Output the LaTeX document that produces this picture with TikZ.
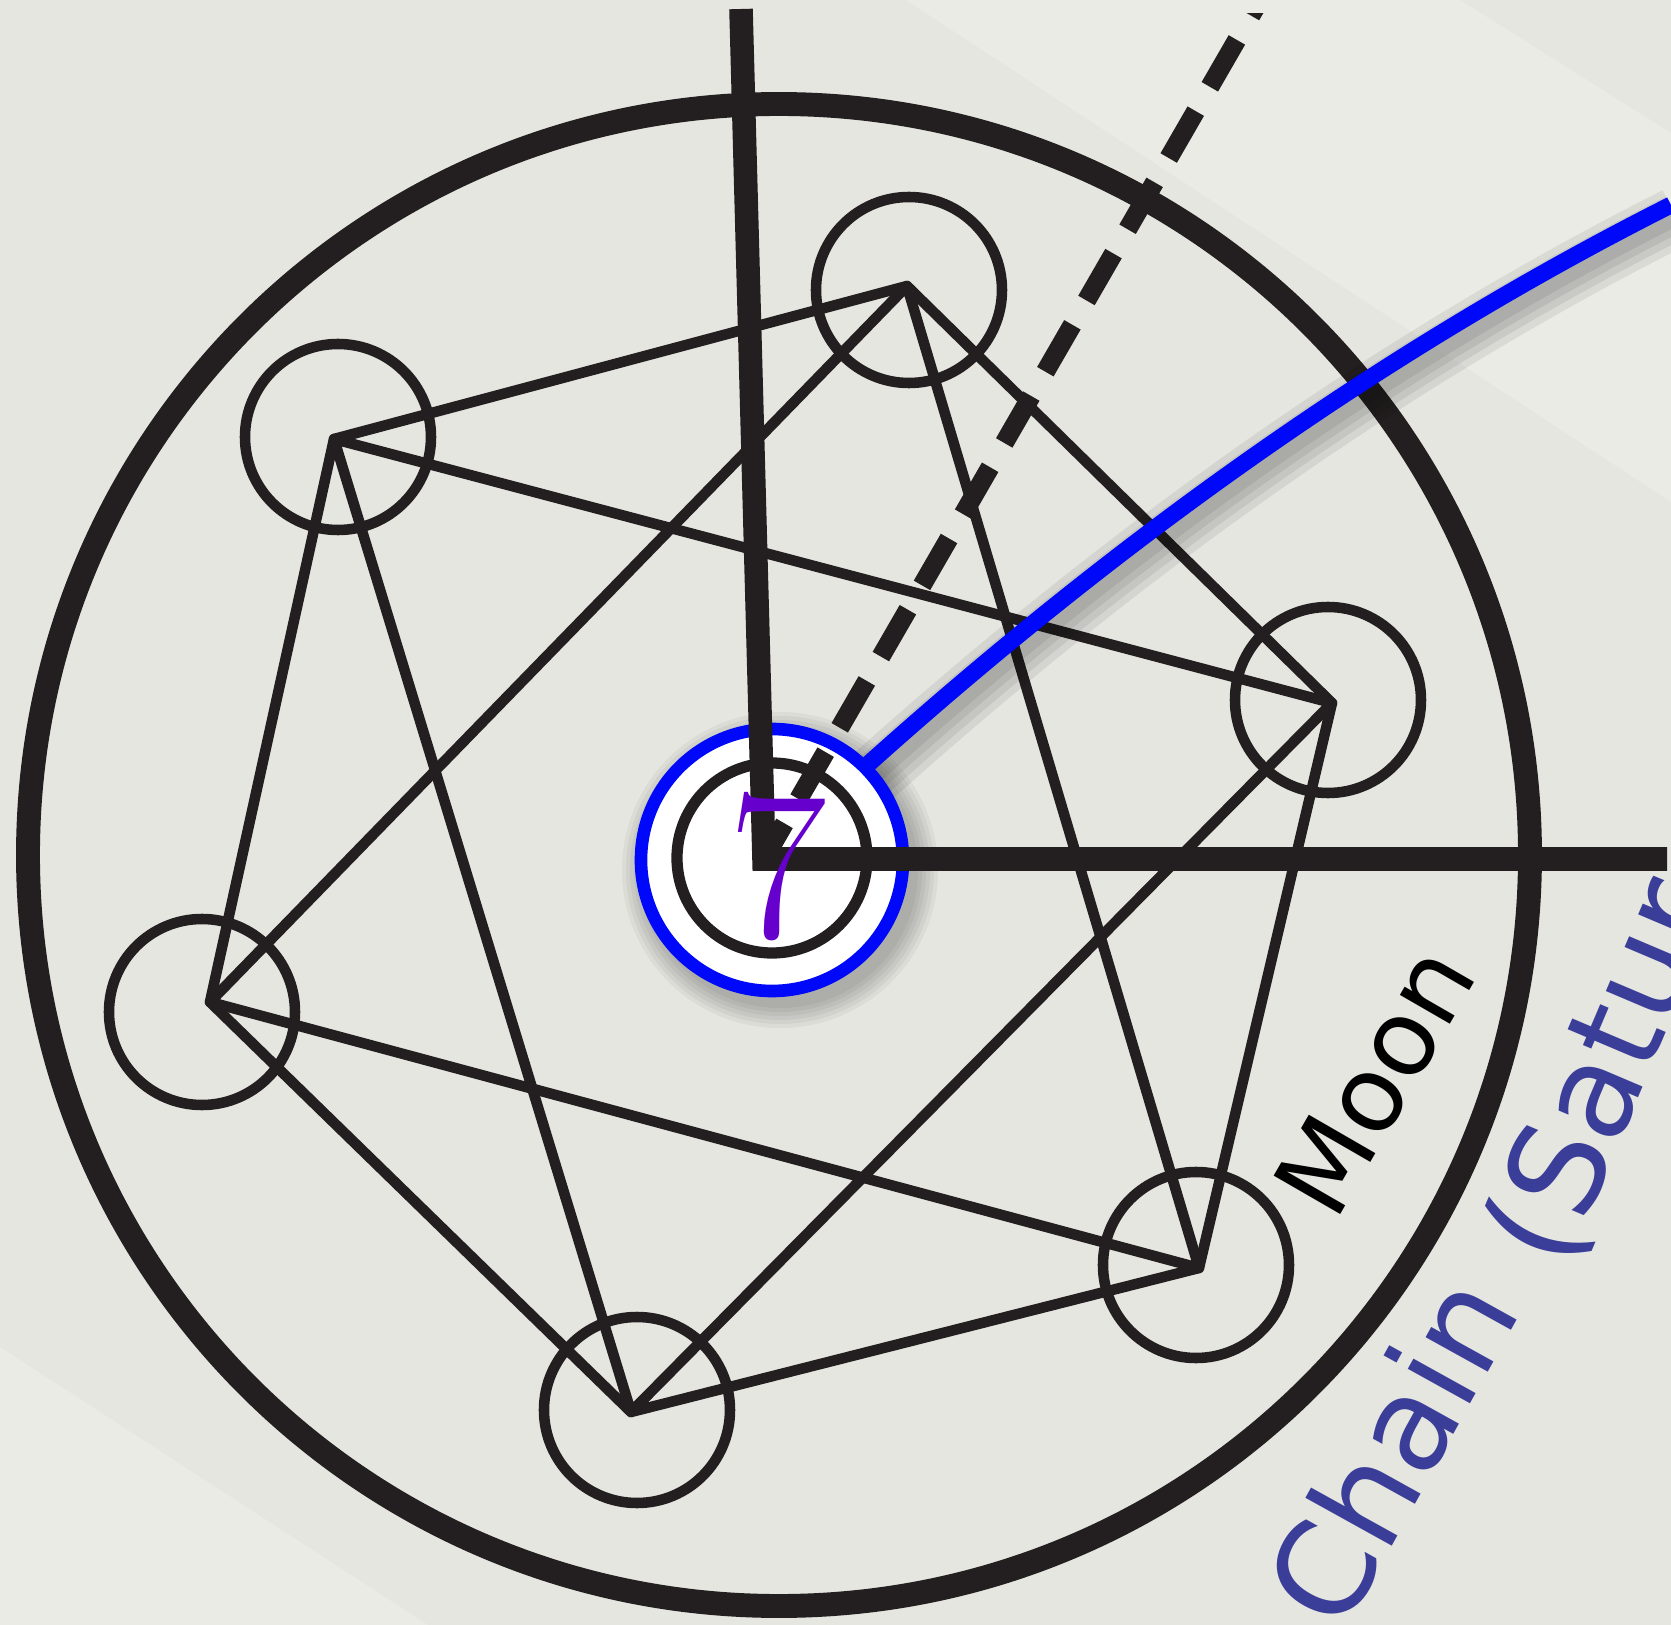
\documentclass[tikz,border=0pt]{standalone}
\usepackage{fontspec}
\usetikzlibrary{calc}
\newfontfamily\labelfont{DejaVu Sans}
\definecolor{inkblack}{RGB}{35, 31, 32}
\definecolor{chainblue}{RGB}{58, 62, 152}
\definecolor{ringblue}{RGB}{0, 8, 250}
\definecolor{digitpurple}{RGB}{102, 0, 204}
\definecolor{papergrey}{RGB}{229, 230, 224}
\definecolor{paperflat}{RGB}{234, 235, 229}

\begin{document}
\begin{tikzpicture}[
    hubring/.style={circle, draw=ringblue, fill=white, line width=3.6pt,
                    minimum size=2.62cm, inner sep=0pt},
    corering/.style={circle, draw=inkblack, line width=3.2pt,
                     minimum size=1.90cm, inner sep=0pt},
    vertexring/.style={circle, draw=inkblack, line width=3pt,
                       minimum size=1.86cm, inner sep=0pt},
    starline/.style={inkblack, line width=3pt, line join=round},
    ray/.style={inkblack, line width=6.7pt},
    dashray/.style={inkblack, line width=5.4pt,
                    dash pattern=on 15.4pt off 8pt, dash phase=3.7pt},
    bluepath/.style={ringblue, line width=4.8pt},
    digit/.style={text=digitpurple, font=\fontsize{61}{61}\selectfont, inner sep=0pt},
    chainlabel/.style={text=chainblue, font=\labelfont\fontsize{37}{37}\selectfont,
                       inner sep=0pt, anchor=base west},
  ]
    \def\outerR{7.51}
    \useasboundingbox (-7.72,-7.65) rectangle (8.99,8.60);

    % Paper background
    \fill[papergrey] (-7.72,-7.65) rectangle (8.99,8.60);
    \fill[paperflat] (1.34,8.60) -- (6.88,8.60) -- (8.99,7.27) -- (8.99,3.58) -- cycle;
    \fill[paperflat] (-7.72,-4.87) -- (-3.44,-7.65) -- (-7.72,-7.65) -- cycle;

    % Outer circle
    \draw[inkblack, line width=6.8pt] (0.07,0.05) circle (\outerR);

    % Star corners
    \coordinate (s1) at (1.35,5.74);
    \coordinate (s2) at (5.60,1.57);
    \coordinate (s3) at (4.27,-4.08);
    \coordinate (s4) at (-1.41,-5.52);
    \coordinate (s5) at (-5.62,-1.42);
    \coordinate (s6) at (-4.38,4.21);

    % Rings at the corners
    \node[vertexring] (r1) at (1.37,5.70) {};
    \node[vertexring] (r2) at (5.56,1.60) {};
    \node[vertexring] (r3) at (4.24,-4.05) {};
    \node[vertexring] (r4) at (-1.35,-5.50) {};
    \node[vertexring] (r5) at (-5.70,-1.52) {};
    \node[vertexring] (r6) at (-4.34,4.23) {};

    % Hexagon and the two triangles
    \draw[starline] (s1) -- (s2) -- (s3) -- (s4) -- (s5) -- (s6) -- cycle;
    \draw[starline] (s1) -- (s3) -- (s5) -- cycle;
    \draw[starline] (s2) -- (s4) -- (s6) -- cycle;

    % Blue path out of the hub
    \coordinate (hub centre) at (0,0);
    \coordinate (blue start) at (45:1.31);
    \coordinate (b1) at (3.39,3.14);
    \coordinate (b2) at (6.07,5.08);
    \coordinate (blue end) at (8.99,6.55);
    \begin{scope}[transform canvas={shift={(0.05,-0.12)}}]
      \foreach \w in {5,9,13,17}
        \draw[black, opacity=0.07, line width=\w pt]
          (blue start) .. controls (b1) and (b2) .. (blue end);
    \end{scope}

    % Hub shadow
    \begin{scope}[transform canvas={shift={(0.08,-0.10)}}]
      \foreach \s in {0,0.04,...,0.2}
        \fill[black, opacity=0.045] (hub centre) circle[radius=1.38+\s];
    \end{scope}

    \draw[bluepath] (blue start) .. controls (b1) and (b2) .. (blue end);

    % Hub
    \node[hubring] (hub) at (hub centre) {};
    \node[corering] (core) at (0,0.02) {};

    % Rays
    \coordinate (ray foot) at (-0.08,0.01);
    \coordinate (north tip) at (-0.31,8.51);
    \coordinate (east tip) at (8.95,0.01);
    \draw[ray] (north tip) -- (ray foot) -- (east tip);
    \begin{scope}
      \clip (-7.72,-7.65) rectangle (8.99,8.46);
      \draw[dashray] (ray foot) -- ++(60:10);
    \end{scope}

    % Digit
    \node[digit, anchor=base] (seven) at (0.055,-0.78) {7};

    % Labels
    \node[font=\labelfont\fontsize{30}{30}\selectfont, text=black, rotate=60]
        (moon) at (6.03,-2.20) {Moon};
    \node[chainlabel, rotate=61] (chain) at (5.70,-7.76) {Chain};
    \node[chainlabel, rotate=67] (saturn) at (7.92,-4.13) {(Satur};

\end{tikzpicture}
\end{document}
